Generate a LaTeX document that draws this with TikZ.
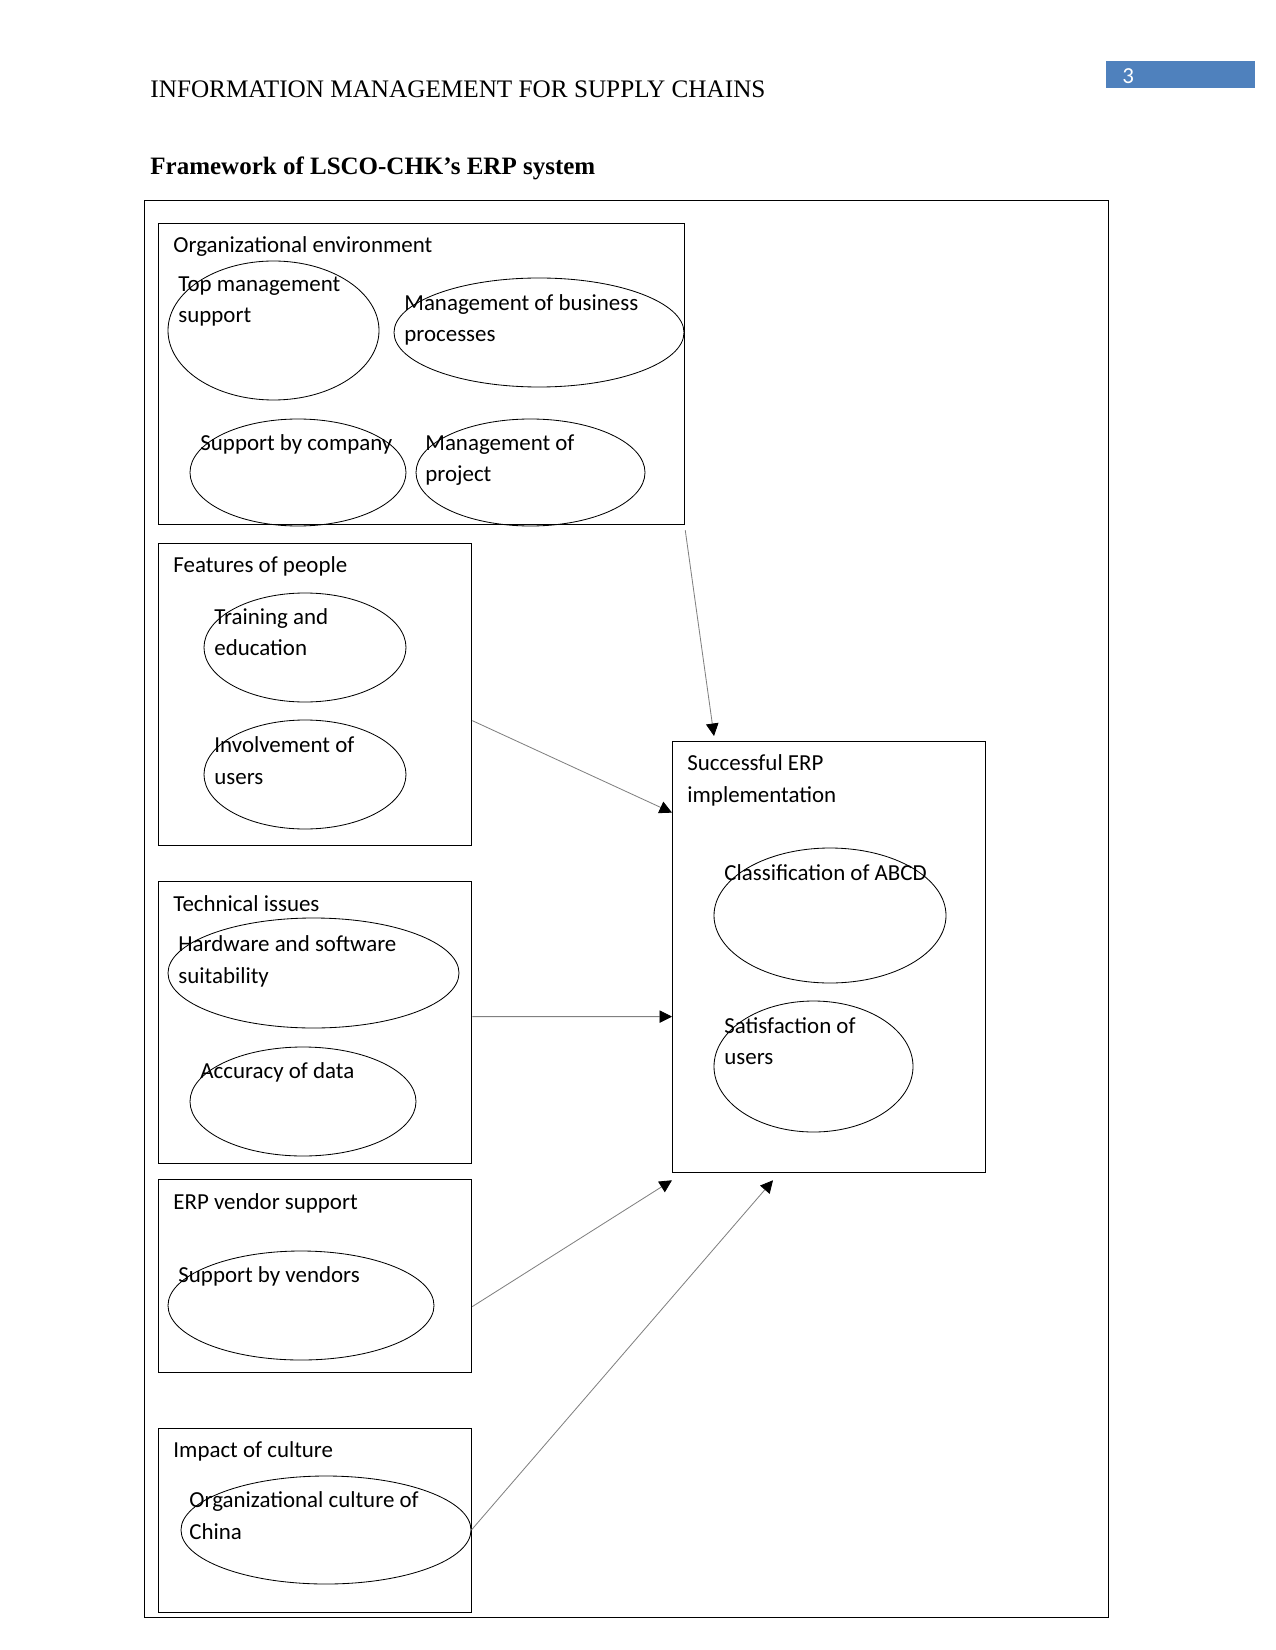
\documentclass[tikz,border=0pt]{standalone}
\usepackage{fontspec}
\setmainfont{Carlito}
\newfontfamily\headfont{Liberation Serif}
\usetikzlibrary{shapes.geometric,arrows.meta,calc}
\definecolor{pageblue}{HTML}{4F81BD}

\begin{document}
\begin{tikzpicture}[x=0.48pt,y=-0.48pt]
  \tikzstyle{every node}+=[inner sep=0pt, font=\fontsize{11}{15.2}\selectfont]
  \tikzset{group/.style 2 args={draw, line width=0.6pt, anchor=north west,
      minimum width=#1*0.48pt, minimum height=#2*0.48pt},
    oval/.style 2 args={draw, ellipse, line width=0.4pt,
      minimum width=#1*0.48pt, minimum height=#2*0.48pt},
    txt/.style={anchor=north west, align=left},
    link/.style={draw=gray, line width=0.4pt, -{Triangle[length=6pt,width=6pt,color=black]}}}
  \useasboundingbox (0,0) rectangle (1275,1650);
  % page header
  \node[anchor=base west, font=\headfont\fontsize{12.1}{14}\selectfont] (head) at (150,98) {INFORMATION MANAGEMENT FOR SUPPLY CHAINS};
  \node[fill=pageblue, anchor=north west, minimum width=149*0.48pt, minimum height=27*0.48pt] (pagebox) at (1106,61) {};
  \node[anchor=west, text=white] (pagenum) at (1122,76) {3};
  \node[anchor=base west, font=\headfont\bfseries\fontsize{12}{14}\selectfont] (title) at (150,175) {Framework of LSCO-CHK’s ERP system};
  % frame and groups
  \node[group={964}{1417}] (frame) at (144,200) {};
  \node[group={526}{301}] (orgenv) at (158,223) {};
  \node[group={313}{302}] (people) at (158,543) {};
  \node[group={313}{282}] (tech) at (158,881) {};
  \node[group={313}{193}] (vendor) at (158,1179) {};
  \node[group={313}{184}] (culture) at (158,1428) {};
  \node[group={313}{431}] (success) at (672,741) {};
  \node[txt] (orgenvlbl) at (173,236) {Organizational environment};
  \node[txt] (peoplelbl) at (173,556) {Features of people};
  \node[txt] (techlbl) at (173,895) {Technical issues};
  \node[txt] (vendorlbl) at (173,1193) {ERP vendor support};
  \node[txt] (culturelbl) at (173,1441) {Impact of culture};
  \node[txt] (successlbl) at (687,754) {Successful ERP\\implementation};
  % factors
  \node[oval={211}{139}] (topmgmt) at (273.5,330.5) {};
  \node[oval={290}{109}] (bizproc) at (539,332.5) {};
  \node[oval={216}{107}] (company) at (298,472.5) {};
  \node[oval={229}{107}] (project) at (530.5,472.5) {};
  \node[oval={202}{109}] (training) at (305,647.5) {};
  \node[oval={202}{109}] (involve) at (305,774.5) {};
  \node[oval={291}{110}] (hwsw) at (313.5,973) {};
  \node[oval={226}{109}] (accuracy) at (303,1101.5) {};
  \node[oval={266}{109}] (vendors) at (301,1305.5) {};
  \node[oval={290}{108}] (orgcult) at (326,1530) {};
  \node[oval={232}{135}] (abcd) at (830,915.5) {};
  \node[oval={199}{131}] (satisf) at (813.5,1066.5) {};
  \node[txt] (topmgmttxt) at (178,276) {Top management\\support};
  \node[txt] (bizproctxt) at (404,294) {Management of business\\processes};
  \node[txt] (companytxt) at (200,434) {Support by company};
  \node[txt] (projecttxt) at (425,434) {Management of\\project};
  \node[txt] (trainingtxt) at (214,608) {Training and\\education};
  \node[txt] (involvetxt) at (214,736) {Involvement of\\users};
  \node[txt] (hwswtxt) at (178,935) {Hardware and software\\suitability};
  \node[txt] (accuracytxt) at (200,1062) {Accuracy of data};
  \node[txt] (vendorstxt) at (178,1266) {Support by vendors};
  \node[txt] (orgculttxt) at (189,1491) {Organizational culture of\\China};
  \node[txt] (abcdtxt) at (724,864) {Classification of ABCD};
  \node[txt] (satisftxt) at (724,1017) {Satisfaction of\\users};
  % links
  \draw[link] ($(orgenv.south east)+(0,5)$) -- ($(success.north west)+(42,-5)$);
  \draw[link] ($(people.east)+(0,26)$) -- ($(success.west)+(0,-144.5)$);
  \draw[link] ($(tech.east)+(0,-6)$) -- ($(success.west)+(0,59.5)$);
  \draw[link] ($(vendor.east)+(0,30.5)$) -- ($(success.south west)+(0,7)$);
  \draw[link] (orgcult.east) -- ($(success.south west)+(101,7)$);
\end{tikzpicture}
\end{document}
